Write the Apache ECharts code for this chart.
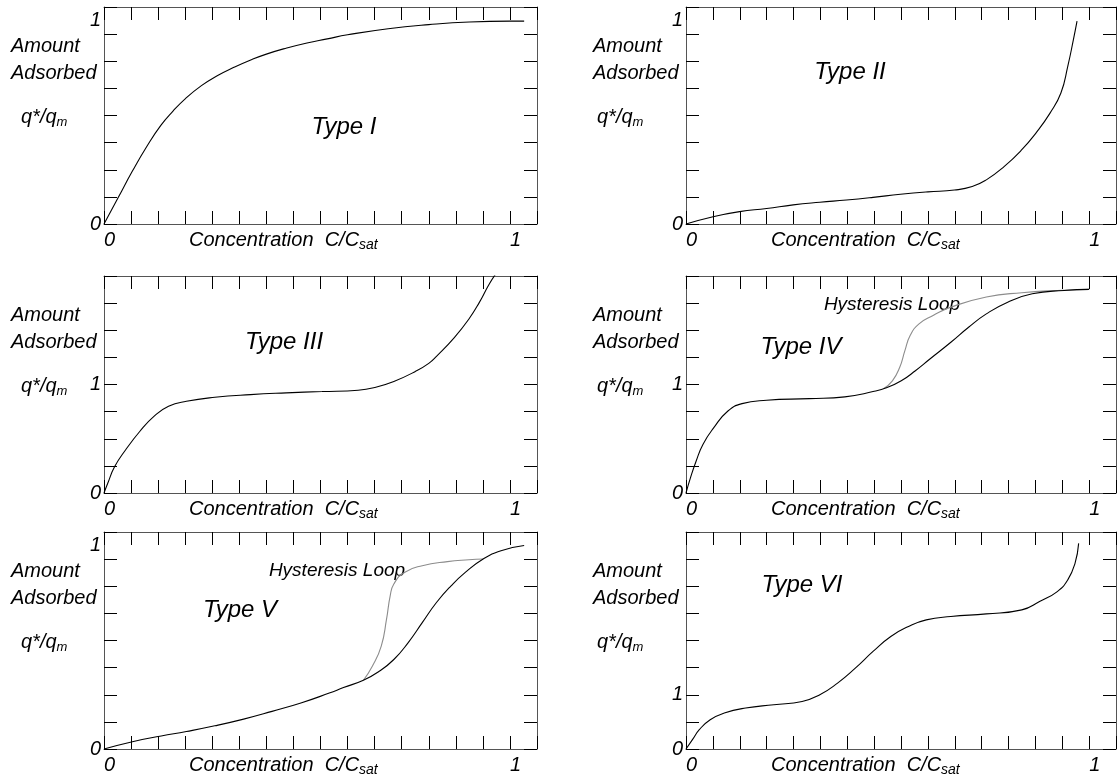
<!DOCTYPE html>
<html><head><meta charset="utf-8">
<script src="https://cdn.jsdelivr.net/npm/echarts@6/dist/echarts.min.js"></script>
<style>html,body{margin:0;padding:0;background:#fff}#c{width:1119px;height:777px}</style>
</head><body><div id="c"></div>
<script>
// ---------- data ----------
const typeI_x = [0, 0.035, 0.07, 0.105, 0.14, 0.17, 0.2, 0.24, 0.28, 0.32, 0.36, 0.4, 0.45, 0.5, 0.55, 0.6, 0.7, 0.8, 0.9, 1.0, 1.035];
const typeI_y = [0, 0.13, 0.26, 0.38, 0.485, 0.555, 0.615, 0.68, 0.73, 0.77, 0.805, 0.835, 0.865, 0.89, 0.91, 0.93, 0.96, 0.98, 0.993, 0.997, 0.997];

const typeII_x = [0, 0.067, 0.133, 0.2, 0.266, 0.332, 0.398, 0.464, 0.532, 0.6, 0.666, 0.71, 0.745, 0.789, 0.833, 0.868, 0.903, 0.93, 0.947, 0.961, 0.97];
const typeII_y = [0, 0.036, 0.061, 0.076, 0.094, 0.107, 0.118, 0.131, 0.146, 0.158, 0.167, 0.184, 0.217, 0.282, 0.365, 0.447, 0.545, 0.644, 0.775, 0.906, 0.997];

const typeIII_x = [0, 0.009, 0.026, 0.053, 0.088, 0.123, 0.159, 0.203, 0.273, 0.361, 0.449, 0.537, 0.626, 0.667, 0.714, 0.767, 0.8, 0.819, 0.863, 0.899, 0.925, 0.947, 0.965];
const typeIII_y = [0, 0.087, 0.241, 0.396, 0.567, 0.706, 0.799, 0.845, 0.882, 0.907, 0.923, 0.935, 0.947, 0.972, 1.028, 1.12, 1.195, 1.26, 1.433, 1.604, 1.759, 1.913, 2.02];

const typeIV_x = [0, 0.011, 0.025, 0.042, 0.069, 0.104, 0.139, 0.2, 0.306, 0.394, 0.464, 0.499, 0.534, 0.569, 0.605, 0.657, 0.701, 0.745, 0.798, 0.859, 0.938, 1.0];
const typeIV_y = [0, 0.139, 0.293, 0.448, 0.602, 0.756, 0.824, 0.855, 0.87, 0.886, 0.935, 0.972, 1.034, 1.127, 1.235, 1.389, 1.528, 1.651, 1.759, 1.836, 1.867, 1.877];
const typeIV_loop_x = [0.49, 0.512, 0.53, 0.543, 0.556, 0.578, 0.613, 0.657, 0.745, 0.833, 0.921, 1.0];
const typeIV_loop_y = [0.962, 1.034, 1.157, 1.312, 1.451, 1.559, 1.636, 1.713, 1.806, 1.846, 1.867, 1.877];

const typeV_x = [0, 0.07, 0.141, 0.203, 0.273, 0.344, 0.414, 0.485, 0.555, 0.59, 0.639, 0.678, 0.714, 0.749, 0.784, 0.819, 0.855, 0.89, 0.934, 0.978, 1.035];
const typeV_y = [0, 0.036, 0.064, 0.086, 0.114, 0.147, 0.185, 0.226, 0.275, 0.302, 0.338, 0.382, 0.44, 0.522, 0.621, 0.72, 0.802, 0.868, 0.934, 0.975, 1.0];
const typeV_loop_x = [0.639, 0.661, 0.683, 0.696, 0.705, 0.714, 0.74, 0.784, 0.846, 0.899, 0.934];
const typeV_loop_y = [0.338, 0.407, 0.506, 0.638, 0.753, 0.811, 0.868, 0.901, 0.921, 0.93, 0.934];

const typeVI_x = [0, 0.016, 0.033, 0.06, 0.095, 0.148, 0.218, 0.288, 0.332, 0.376, 0.42, 0.464, 0.508, 0.552, 0.596, 0.657, 0.745, 0.833, 0.877, 0.921, 0.947, 0.965, 0.974];
const typeVI_y = [0, 0.172, 0.356, 0.54, 0.663, 0.755, 0.816, 0.877, 1.0, 1.215, 1.491, 1.798, 2.074, 2.258, 2.38, 2.442, 2.491, 2.564, 2.718, 2.902, 3.117, 3.423, 3.791];

const panelTitles = ['Type I', 'Type II', 'Type III', 'Type IV', 'Type V', 'Type VI'];
const xTickLabels = [0, 1];
const yTickLabels = [0, 1];
const xAxisMax = 16 / 15;
const xTickStep = 1 / 15;
const yAxisMax = [16 / 15, 16 / 15, 2, 2, 16 / 15, 4];
const yTickStep = [2 / 15, 2 / 15, 0.25, 0.25, 2 / 15, 0.5];
const loopLabel = 'Hysteresis Loop';

// ---------- layout / style ----------
const FONT = '"Liberation Sans", Arial, sans-serif';
const H = 217;
const panels = [
  {left: 104, top: 7, width: 433},
  {left: 686, top: 7, width: 432},
  {left: 104, top: 276, width: 433},
  {left: 686, top: 276, width: 432},
  {left: 104, top: 532, width: 433},
  {left: 686, top: 532, width: 432}
];
const titlePos = [[344, 127], [850, 72], [284, 342], [801, 347], [240, 610], [802, 585]];
const loopPos = {3: [892, 305], 4: [337, 571]};
const curves = [
  [[typeI_x, typeI_y]],
  [[typeII_x, typeII_y]],
  [[typeIII_x, typeIII_y]],
  [[typeIV_x, typeIV_y], [typeIV_loop_x, typeIV_loop_y, true]],
  [[typeV_x, typeV_y], [typeV_loop_x, typeV_loop_y, true]],
  [[typeVI_x, typeVI_y]]
];

function labelFor(v, arr) {
  for (const a of arr) if (Math.abs(v - a) < 1e-6) return String(a);
  return '';
}

const grid = [], xAxis = [], yAxis = [], series = [], graphic = [];
const txt = {fontSize: 20, fontStyle: 'italic', fontFamily: FONT, color: '#000'};

panels.forEach((p, i) => {
  grid.push({left: p.left, top: p.top, width: p.width, height: H});
  const axLine = {show: true, onZero: false, lineStyle: {color: '#555', width: 1}};
  const tick = {show: true, inside: true, length: 13, lineStyle: {color: '#000', width: 1}};
  const xBase = {type: 'value', gridIndex: i, min: 0, max: xAxisMax, interval: xTickStep,
    splitLine: {show: false}, axisLine: axLine, axisTick: tick};
  xAxis.push(Object.assign({}, xBase, {position: 'bottom',
    axisLabel: Object.assign({show: true, margin: 6, align: 'left', showMaxLabel: true, showMinLabel: true,
      formatter: v => labelFor(v, xTickLabels)}, txt)}));
  xAxis.push(Object.assign({}, xBase, {position: 'top', axisLabel: {show: false}}));
  const yBase = {type: 'value', gridIndex: i, min: 0, max: yAxisMax[i], interval: yTickStep[i],
    splitLine: {show: false}, axisLine: axLine, axisTick: tick, axisLabel: {show: false}};
  yAxis.push(Object.assign({}, yBase, {position: 'left'}));
  yAxis.push(Object.assign({}, yBase, {position: 'right'}));
  yAxis.push({type: 'value', gridIndex: i, min: 0, max: yAxisMax[i], interval: 1, position: 'left',
    splitLine: {show: false}, axisLine: {show: false, onZero: false}, axisTick: {show: false},
    axisLabel: Object.assign({show: true, margin: 3, showMaxLabel: true, showMinLabel: true,
      formatter: v => labelFor(v, yTickLabels)}, txt)});

  curves[i].forEach(c => {
    series.push({type: 'line', xAxisIndex: 2 * i, yAxisIndex: 3 * i,
      data: c[0].map((x, k) => [x, c[1][k]]),
      showSymbol: false, symbol: 'none', smooth: 0.5,
      lineStyle: {color: c[2] ? '#8c8c8c' : '#000', width: 1.1},
      z: c[2] ? 2 : 3, silent: true});
  });

  // y axis title
  const isLeft = p.left < 300;
  const tx = isLeft ? 11 : 593;
  const qx = isLeft ? 21 : 597;
  const font = 'italic 20px ' + FONT;
  graphic.push({type: 'text', x: tx, y: p.top + 39, style: {text: 'Amount', font, fill: '#000', textAlign: 'left', textVerticalAlign: 'middle'}});
  graphic.push({type: 'text', x: tx, y: p.top + 66, style: {text: 'Adsorbed', font, fill: '#000', textAlign: 'left', textVerticalAlign: 'middle'}});
  graphic.push({type: 'text', x: qx, y: p.top + 110, style: {
    text: '{n|q*/q}{s|m}', textAlign: 'left', textVerticalAlign: 'middle',
    rich: {n: {fontSize: 20, fontStyle: 'italic', fontFamily: FONT, fill: '#000', lineHeight: 24},
           s: {fontSize: 13, fontStyle: 'italic', fontFamily: FONT, fill: '#000', lineHeight: 14, verticalAlign: 'bottom'}}}});
  // x axis title
  graphic.push({type: 'text', x: p.left + 85, y: p.top + H + 16, style: {
    text: '{n|Concentration  C/C}{s|sat}', textAlign: 'left', textVerticalAlign: 'middle',
    rich: {n: {fontSize: 20, fontStyle: 'italic', fontFamily: FONT, fill: '#000', lineHeight: 24},
           s: {fontSize: 14, fontStyle: 'italic', fontFamily: FONT, fill: '#000', lineHeight: 15, verticalAlign: 'bottom'}}}});
  // panel title
  graphic.push({type: 'text', x: titlePos[i][0], y: titlePos[i][1], style: {text: panelTitles[i],
    font: 'italic 24px ' + FONT, fill: '#000', textAlign: 'center', textVerticalAlign: 'middle'}});
  if (loopPos[i]) {
    graphic.push({type: 'text', x: loopPos[i][0], y: loopPos[i][1], z: 1, style: {text: loopLabel,
      font: 'italic 19px ' + FONT, fill: '#000', textAlign: 'center', textVerticalAlign: 'middle'}});
  }
});

const chart = echarts.init(document.getElementById('c'), null, {renderer: 'canvas'});
chart.setOption({animation: false, backgroundColor: '#fff', grid, xAxis, yAxis, series, graphic});
</script>
</body></html>
